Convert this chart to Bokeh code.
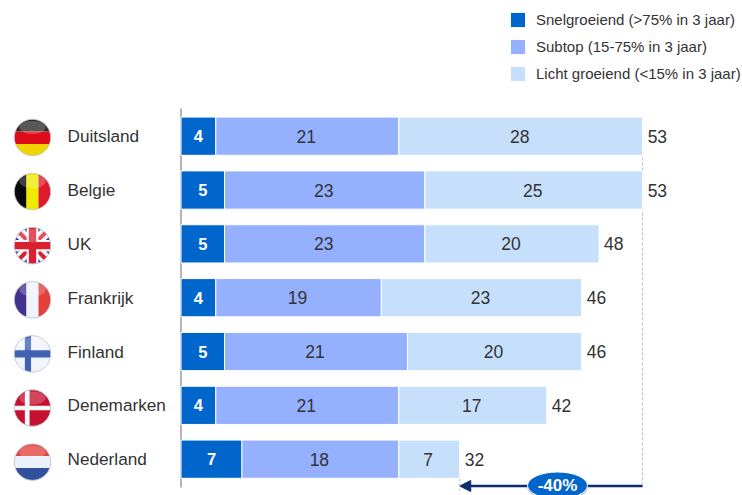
import numpy as np
from bokeh.core.properties import value
from bokeh.embed import file_html
from bokeh.models import (Arrow, ColumnDataSource, Legend, LegendItem, NormalHead,
                          Range1d)
from bokeh.plotting import figure
from bokeh.resources import INLINE

countries = ["Duitsland", "Belgie", "UK", "Frankrijk", "Finland", "Denemarken", "Nederland"]
snel = [4, 5, 5, 4, 5, 4, 7]
subtop = [21, 23, 23, 19, 21, 21, 18]
licht = [28, 25, 20, 23, 20, 17, 7]
totals = [53, 53, 48, 46, 46, 42, 32]
series_names = ["Snelgroeiend (>75% in 3 jaar)", "Subtop (15-75% in 3 jaar)", "Licht groeiend (<15% in 3 jaar)"]
colors = ["#0066CC", "#94B0FF", "#C6E0FC"]
delta_label = "-40%"

W, H = 742, 495
X0, SX = 180.5, 8.71      # page px of value 0, px per unit
Y0, SY = 135.7, 53.83     # page px of first row centre, px per row
FONT = "Liberation Sans"
TXT = "#333333"


def dx(px):
    return (px - X0) / SX


def dy(py):
    return (py - Y0) / SY


p = figure(width=W, height=H, output_backend="svg", toolbar_location=None,
           x_range=Range1d(dx(0), dx(W)), y_range=Range1d(dy(H), dy(0)),
           x_axis_location=None, y_axis_location=None, min_border=0,
           outline_line_color=None, background_fill_color="white")
p.grid.visible = False

rows = list(range(len(countries)))
a, b, c = map(np.array, (snel, subtop, licht))
src = ColumnDataSource(dict(row=rows, country=countries, snel=snel, subtop=subtop, licht=licht,
                            total=totals, a_mid=a / 2, b_mid=a + b / 2, c_mid=a + b + c / 2))

# reference lines
p.segment(x0=[53, 32], x1=[53, 32], y0=[dy(117), dy(478)], y1=[dy(486), dy(490)],
          line_color="#BBBBBB", line_dash="3 2")
p.segment(x0=[0], x1=[0], y0=[dy(108)], y1=[dy(487)], line_color="#B5B5B5", line_width=2)

# stacked bars
bars = p.hbar_stack(["snel", "subtop", "licht"], y="row", height=0.71, source=src,
                    color=colors, line_color="white", line_width=1)

# bar labels
p.text(x="a_mid", y="row", text="snel", source=src, text_align="center", text_baseline="middle",
       text_color="white", text_font=value(FONT), text_font_style="bold", text_font_size="16.5px")
for col in ("b_mid", "c_mid"):
    p.text(x=col, y="row", text={"b_mid": "subtop", "c_mid": "licht"}[col], source=src,
           text_align="center", text_baseline="middle", text_color=TXT, x_offset=-1,
           text_font=value(FONT), text_font_size="17.5px")
p.text(x="total", y="row", text="total", source=src, x_offset=5, text_align="left",
       text_baseline="middle", text_color=TXT, text_font=value(FONT), text_font_size="17.5px")

# country names
p.text(x=dx(67), y="row", text="country", source=src, text_align="left", text_baseline="middle",
       text_color=TXT, text_font=value(FONT), text_font_size="17.2px")


# round flags
def clip(subject, clipper):
    out = list(subject)
    n = len(clipper)
    for i in range(n):
        ax, ay = clipper[i]
        bx, by = clipper[(i + 1) % n]
        inp, out = out, []
        side = lambda q: (bx - ax) * (q[1] - ay) - (by - ay) * (q[0] - ax)
        for j in range(len(inp)):
            s, e = inp[j - 1], inp[j]
            ss, se = side(s), side(e)
            if se >= 0:
                if ss < 0:
                    t = ss / (ss - se)
                    out.append((s[0] + t * (e[0] - s[0]), s[1] + t * (e[1] - s[1])))
                out.append(e)
            elif ss >= 0:
                t = ss / (ss - se)
                out.append((s[0] + t * (e[0] - s[0]), s[1] + t * (e[1] - s[1])))
        if not out:
            break
    return out


def rect(x0, x1, y0, y1):
    return [(x0, y0), (x1, y0), (x1, y1), (x0, y1)]


def diag(sign, w):
    d = np.array([1, sign]) / np.sqrt(2)
    n = np.array([-d[1], d[0]]) * w
    e = d * 2
    return [tuple(-e - n), tuple(e - n), tuple(e + n), tuple(-e + n)]


FULL = rect(-1.1, 1.1, -1.1, 1.1)
flags = [
    [("#2A2A2A", rect(-1.1, 1.1, 0.33, 1.1)), ("#DD0C1A", rect(-1.1, 1.1, -0.36, 0.33)), ("#F2D500", rect(-1.1, 1.1, -1.1, -0.36))],
    [("#0A0A0A", rect(-1.1, -0.33, -1.1, 1.1)), ("#EFEA00", rect(-0.33, 0.33, -1.1, 1.1)), ("#DE1B2A", rect(0.33, 1.1, -1.1, 1.1))],
    [("#3E2F92", FULL), ("#F4F4FA", diag(1, 0.3)), ("#F4F4FA", diag(-1, 0.3)), ("#D9202F", diag(1, 0.11)), ("#D9202F", diag(-1, 0.11)),
     ("#F4F4FA", rect(-1.1, 1.1, -0.32, 0.32)), ("#F4F4FA", rect(-0.32, 0.32, -1.1, 1.1)),
     ("#D9202F", rect(-1.1, 1.1, -0.2, 0.2)), ("#D9202F", rect(-0.2, 0.2, -1.1, 1.1))],
    [("#43318F", rect(-1.1, -0.33, -1.1, 1.1)), ("#EEF3FC", rect(-0.33, 0.33, -1.1, 1.1)), ("#E5403A", rect(0.33, 1.1, -1.1, 1.1))],
    [("#F2F5FB", FULL), ("#3F62B2", rect(-1.1, 1.1, -0.2, 0.2)), ("#3F62B2", rect(-0.42, -0.08, -1.1, 1.1))],
    [("#C4112F", FULL), ("#F7F7F7", rect(-1.1, 1.1, -0.13, 0.13)), ("#F7F7F7", rect(-0.42, -0.16, -1.1, 1.1))],
    [("#E5413F", rect(-1.1, 1.1, 0.33, 1.1)), ("#E9F1FB", rect(-1.1, 1.1, -0.33, 0.33)), ("#33509F", rect(-1.1, 1.1, -1.1, -0.33))],
]
theta = np.linspace(0, 2 * np.pi, 72, endpoint=False)
disc = list(zip(np.cos(theta), np.sin(theta)))
fx, fy, fc = [], [], []
gx, gy, rx, ry = [], [], [], []
FR = 18.2
for i, stripes in enumerate(flags):
    cx, cy = 32, 137 + 54.1 * i
    for col, poly in stripes:
        q = clip(poly, disc)
        fx.append([dx(cx + FR * u) for u, _ in q])
        fy.append([dy(cy - FR * v) for _, v in q])
        fc.append(col)
    gx.append(list(dx(cx + FR * 0.72 * np.cos(theta))))
    gy.append(list(dy(cy - FR * (0.55 + 0.36 * np.sin(theta)))))
    rx.append(list(dx(cx + FR * np.cos(theta))))
    ry.append(list(dy(cy - FR * np.sin(theta))))
p.patches(fx, fy, fill_color=fc, line_color=None)
p.patches(gx, gy, fill_color="white", fill_alpha=0.22, line_color=None)
p.patches(rx, ry, fill_color=None, line_color="#C4CAD2", line_width=1)

# arrow with badge
p.add_layout(Arrow(x_start=53, y_start=dy(485.5), x_end=32, y_end=dy(485.5), line_color="#0B2F6E", line_width=2.5,
                   level="underlay",
                   end=NormalHead(size=11, fill_color="#0B2F6E", line_color="#0B2F6E")))
bx, by = dx(557), dy(485)
p.ellipse(x=[bx], y=[dy(486.5)], width=[61], height=[27], width_units="screen", height_units="screen",
          fill_color="#888888", fill_alpha=0.5, line_color=None)
p.ellipse(x=[bx], y=[by], width=[60], height=[27], width_units="screen", height_units="screen",
          fill_color="#0066CC", line_color="white", line_width=1)
p.text(x=[bx], y=[by], text=[delta_label], text_align="center", text_baseline="middle", text_color="white",
       text_font=value(FONT), text_font_style="bold", text_font_size="17px")

# legend
legend = Legend(items=[LegendItem(label=value(n), renderers=[r]) for n, r in zip(series_names, bars)],
                location=(508, H - 82.5), orientation="vertical", glyph_width=19, glyph_height=19,
                spacing=8, padding=0, margin=0, label_standoff=9, label_height=15,
                label_text_font=FONT, label_text_font_size="15px", label_text_color=TXT,
                background_fill_alpha=0, border_line_color=None)
p.add_layout(legend, "center")

open("out.html", "w").write(file_html(p, INLINE))
